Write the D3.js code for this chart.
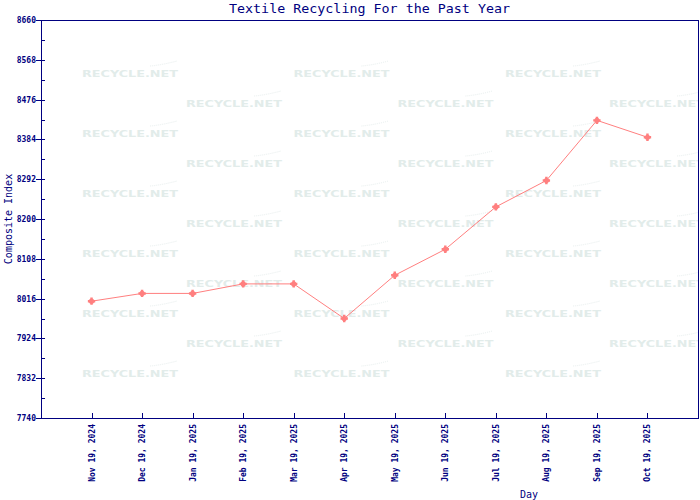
<!DOCTYPE html>
<html>
<head>
<meta charset="utf-8">
<script src="https://cdn.jsdelivr.net/npm/d3@7"></script>
<style>
  html, body { margin: 0; padding: 0; background: #ffffff; }
  svg { display: block; }
  text { font-family: "DejaVu Sans Mono", "Liberation Mono", monospace; }
</style>
</head>
<body>
<script>
// ---- data ----
const categories = ["Nov 19, 2024", "Dec 19, 2024", "Jan 19, 2025", "Feb 19, 2025",
  "Mar 19, 2025", "Apr 19, 2025", "May 19, 2025", "Jun 19, 2025",
  "Jul 19, 2025", "Aug 19, 2025", "Sep 19, 2025", "Oct 19, 2025"];
const values = [8010, 8028, 8028, 8050, 8050, 7970, 8070, 8130, 8228, 8289, 8428, 8389];
const yTickValues = [7740, 7832, 7924, 8016, 8108, 8200, 8292, 8384, 8476, 8568, 8660];
const titleText = "Textile Recycling For the Past Year";
const xTitle = "Day";
const yTitle = "Composite Index";
const watermarkText = "RECYCLE.NET";

// ---- layout ----
const W = 700, H = 500;
const L = 41, R = 698, T = 20, B = 418;
const navy = "#000080";
const lineColor = "#ff7f7f";

const svg = d3.select("body").append("svg").attr("width", W).attr("height", H);

const x = d3.scalePoint().domain(categories).range([L, R]).padding(1);
const y = d3.scaleLinear().domain([7740, 8660]).range([B, T]);

// clip for watermark
svg.append("defs").append("clipPath").attr("id", "plotclip")
  .append("rect").attr("x", L).attr("y", T).attr("width", R - L).attr("height", B - T);

// ---- watermark ----
const wm = svg.append("g").attr("clip-path", "url(#plotclip)");
const wmColor = "#e2ecea";
for (let r = 0; r < 11; r++) {
  const yy = 73 + r * 30;
  const startX = (r % 2 === 0) ? 82 : 186;
  for (let c = 0; c < 4; c++) {
    const xx = startX + c * 211.5;
    wm.append("text")
      .attr("x", xx).attr("y", yy + 3.5)
      .attr("textLength", 96).attr("lengthAdjust", "spacingAndGlyphs")
      .style("font-family", "'DejaVu Sans', sans-serif")
      .style("font-size", "9.5px").style("font-weight", "bold")
      .attr("fill", wmColor).text(watermarkText);
    wm.append("path")
      .attr("d", `M${xx + 68},${yy - 7} Q${xx + 80},${yy - 8} ${xx + 95},${yy - 12}`)
      .attr("fill", "none").attr("stroke", "#e8efee").attr("stroke-width", 1)
      .attr("stroke-dasharray", "1,1");
  }
}

// ---- frame ----
svg.append("rect").attr("x", L).attr("y", T).attr("width", R - L).attr("height", B - T)
  .attr("fill", "none").attr("stroke", navy).attr("stroke-width", 1)
  .attr("shape-rendering", "crispEdges");

// ---- y axis ticks ----
const yg = svg.append("g").attr("shape-rendering", "crispEdges");
yTickValues.forEach(v => {
  yg.append("line").attr("x1", L - 5).attr("x2", L + 4)
    .attr("y1", Math.round(y(v)) + 0.5).attr("y2", Math.round(y(v)) + 0.5)
    .attr("stroke", navy);
  yg.append("text").attr("x", 36).attr("y", y(v) + 3)
    .attr("text-anchor", "end").attr("fill", navy)
    .style("font-size", "8px").style("font-weight", "bold").text(v);
});
for (let i = 0; i < yTickValues.length - 1; i++) {
  const v = (yTickValues[i] + yTickValues[i + 1]) / 2;
  yg.append("line").attr("x1", L).attr("x2", L + 4)
    .attr("y1", Math.round(y(v)) + 0.5).attr("y2", Math.round(y(v)) + 0.5)
    .attr("stroke", navy);
}

// ---- x axis ticks and labels ----
const xg = svg.append("g");
categories.forEach(c => {
  const px = Math.round(x(c)) + 0.5;
  xg.append("line").attr("x1", px).attr("x2", px).attr("y1", B - 5).attr("y2", B)
    .attr("stroke", navy).attr("shape-rendering", "crispEdges");
  xg.append("text")
    .attr("transform", `translate(${x(c) + 3},${424}) rotate(-90)`)
    .attr("text-anchor", "end").attr("fill", navy)
    .style("font-size", "8px").style("font-weight", "bold").text(c);
});

// ---- titles ----
svg.append("text").attr("x", (L + R) / 2).attr("y", 12.5)
  .attr("text-anchor", "middle").attr("fill", navy)
  .attr("textLength", 281).attr("lengthAdjust", "spacingAndGlyphs")
  .style("font-size", "13px").text(titleText);

svg.append("text").attr("x", 529).attr("y", 498)
  .attr("text-anchor", "middle").attr("fill", navy)
  .style("font-size", "10px").text(xTitle);

svg.append("text").attr("transform", `translate(12,${(T + B) / 2}) rotate(-90)`)
  .attr("text-anchor", "middle").attr("fill", navy)
  .style("font-size", "10px").text(yTitle);

// ---- line ----
const line = d3.line().x((d, i) => x(categories[i])).y(d => y(d));
svg.append("path").datum(values).attr("d", line)
  .attr("fill", "none").attr("stroke", lineColor).attr("stroke-width", 1);

// ---- markers ----
const mk = svg.append("g");
values.forEach((v, i) => {
  const cx = x(categories[i]), cy = y(v);
  mk.append("circle").attr("cx", cx).attr("cy", cy).attr("r", 2.6).attr("fill", lineColor);
  mk.append("path").attr("transform", `translate(${cx},${cy})`)
    .attr("d", d3.symbol(d3.symbolCross, 30)()).attr("fill", lineColor);
});
</script>
</body>
</html>
